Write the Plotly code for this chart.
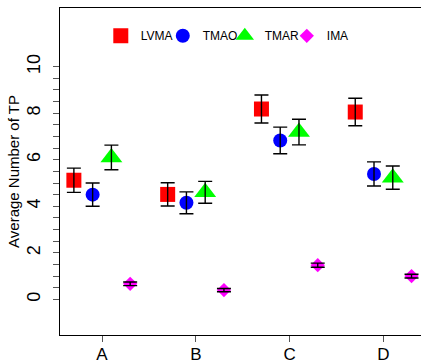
import plotly.graph_objects as go

# Groups and their x positions
groups = ["A", "B", "C", "D"]
group_pos = [1, 2, 3, 4]

# Mean number of TP per method and group, with error half-widths
series_names = ["LVMA", "TMAO", "TMAR", "IMA"]
lvma_mean = [5.12, 4.51, 8.18, 8.05]
lvma_err = [0.52, 0.50, 0.60, 0.59]
tmao_mean = [4.50, 4.15, 6.83, 5.39]
tmao_err = [0.50, 0.47, 0.57, 0.52]
tmar_mean = [6.10, 4.60, 7.19, 5.23]
tmar_err = [0.53, 0.47, 0.55, 0.50]
ima_mean = [0.67, 0.40, 1.47, 1.00]
ima_err = [0.08, 0.07, 0.09, 0.08]

# y-axis ticks every 0.5, labelled at even values
y_tick_vals = [i * 0.5 for i in range(21)]
y_tick_text = [str(int(v)) if v % 2 == 0 else "" for v in y_tick_vals]

offsets = [-0.3, -0.1, 0.1, 0.3]
colors = ["#FF0000", "#0000FF", "#00FF00", "#FF00FF"]
symbols = ["square", "circle", "triangle-up", "diamond"]
sizes = [15, 14, 19, 11]
means = [lvma_mean, tmao_mean, tmar_mean, ima_mean]
errs = [lvma_err, tmao_err, tmar_err, ima_err]

fig = go.Figure()

# markers
for name, m, off, c, s, sz in zip(series_names, means, offsets, colors, symbols, sizes):
    fig.add_trace(go.Scatter(
        x=[p + off for p in group_pos], y=m, mode="markers", name=name,
        marker=dict(color=c, symbol=s, size=sz, line=dict(width=0)),
    ))

# error bars drawn above the markers
for m, e, off in zip(means, errs, offsets):
    fig.add_trace(go.Scatter(
        x=[p + off for p in group_pos], y=m, mode="markers", showlegend=False,
        marker=dict(size=1, opacity=0), hoverinfo="skip",
        error_y=dict(type="data", array=e, visible=True, color="black",
                     thickness=1.4, width=7),
    ))

fig.update_layout(
    width=421, height=364,
    margin=dict(l=60, r=0, t=8, b=29, autoexpand=False),
    paper_bgcolor="white", plot_bgcolor="white",
    font=dict(family="Liberation Sans, Arial, sans-serif", color="black"),
    showlegend=True,
    legend=dict(
        orientation="h", x=0.113, xanchor="left", y=0.915, yanchor="middle",
        font=dict(size=12), bgcolor="rgba(0,0,0,0)", itemwidth=30,
        entrywidth=17, entrywidthmode="pixels", traceorder="normal",
    ),
    xaxis=dict(
        range=[0.552, 4.401], tickmode="array", tickvals=group_pos, ticktext=groups,
        showgrid=False, zeroline=False, showline=True, linecolor="black",
        linewidth=1.3, mirror=True, ticks="outside", ticklen=6, tickcolor="#555555",
        tickwidth=1.2, tickfont=dict(size=17), ticklabelstandoff=-3, automargin=False,
    ),
    yaxis=dict(
        range=[-1.53, 12.52], tickmode="array", tickvals=y_tick_vals, ticktext=y_tick_text,
        showgrid=False, zeroline=False, showline=True, linecolor="black",
        linewidth=1.3, ticks="outside", ticklen=6, tickcolor="#555555", tickwidth=1.2,
        tickangle=-90, tickfont=dict(size=18), ticklabelstandoff=6, automargin=False,
        title=dict(text="Average Number of TP", font=dict(size=15), standoff=0),
    ),
)

fig.write_html("out.html")
